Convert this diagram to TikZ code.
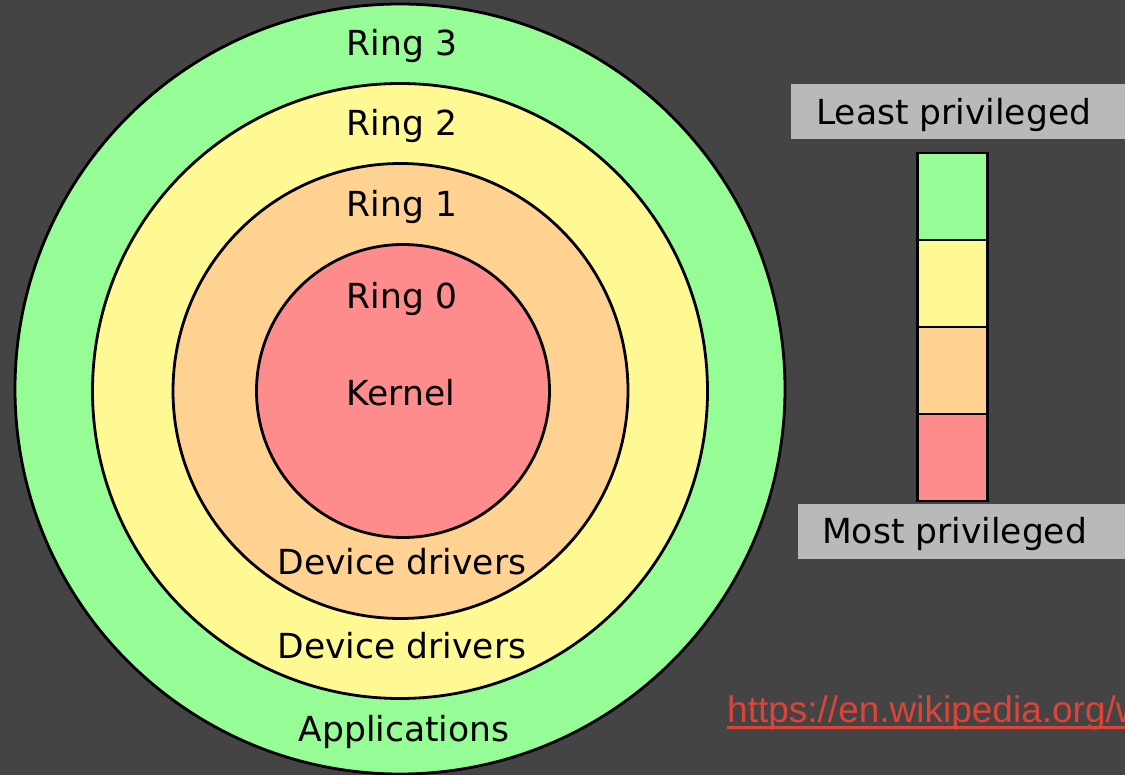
\documentclass[tikz,border=0pt]{standalone}
\usepackage{fontspec}
\setmainfont{DejaVu Sans}
\newfontfamily\urlfont{Liberation Sans}
\definecolor{bgc}{RGB}{68,68,68}
\definecolor{ringg}{RGB}{150,252,150}
\definecolor{ringy}{RGB}{255,249,148}
\definecolor{ringo}{RGB}{255,210,146}
\definecolor{ringr}{RGB}{255,140,140}
\definecolor{boxgray}{RGB}{185,185,185}
\definecolor{urlred}{RGB}{219,68,55}
\tikzset{
  ringdisk/.style={circle, draw=black, line width=2.8pt, inner sep=0pt, minimum size=#1},
  lbl/.style={anchor=base, inner sep=0pt, font=\fontsize{34.5}{40}\selectfont, text=black},
  barseg/.style={rectangle, draw=black, line width=1pt, minimum width=69pt, minimum height=86pt, inner sep=0pt, anchor=north},
  grayband/.style={rectangle, fill=boxgray, inner sep=0pt, anchor=north west},
}
\begin{document}
\begin{tikzpicture}[x=1pt,y=-1pt]
\useasboundingbox (0,0) rectangle (1125,775);
\clip (0,0) rectangle (1125,775);
\fill[bgc] (0,0) rectangle (1125,775);
% rings
\node[ringdisk=770pt, fill=ringg] (r3) at (400,389) {};
\node[ringdisk=615pt, fill=ringy] (r2) at (400,391) {};
\node[ringdisk=455pt, fill=ringo] (r1) at (400.5,391) {};
\node[ringdisk=293pt, fill=ringr] (r0) at (403,391) {};
% ring labels
\node[lbl] (t3) at (402,56) {Ring 3};
\node[lbl] (t2) at (402,136) {Ring 2};
\node[lbl] (t1) at (402,217) {Ring 1};
\node[lbl] (t0) at (402,309) {Ring 0};
\node[lbl] (tk) at (401,406) {Kernel};
\node[lbl] (td1) at (402,574) {Device drivers};
\node[lbl] (td2) at (402,658) {Device drivers};
\node[lbl] (ta) at (404,741) {Applications};
% legend
\node[grayband, minimum width=340pt, minimum height=55pt] (lp) at (791,84) {};
\node[lbl, anchor=base west] (lpt) at (816,125) {Least privileged};
\node[barseg, fill=ringg] (b3) at (952.5,153) {};
\node[barseg, fill=ringy] (b2) at (b3.south) {};
\node[barseg, fill=ringo] (b1) at (b2.south) {};
\node[barseg, fill=ringr] (b0) at (b1.south) {};
\draw[line width=2.4pt] (b3.north west) rectangle (b0.south east);
\node[grayband, minimum width=330pt, minimum height=55pt] (mp) at (798,504) {};
\node[lbl, anchor=base west] (mpt) at (822,543) {Most privileged};
% url
\node[anchor=base west, inner sep=0pt, text=urlred, font=\urlfont\fontsize{37}{44}\selectfont] (url) at (727,722) {https://en.wikipedia.org/w};
\draw[urlred, line width=3pt] ([yshift=-5.5pt]url.base west) -- ([yshift=-5.5pt]url.base east -| 1130,0);
\end{tikzpicture}
\end{document}
